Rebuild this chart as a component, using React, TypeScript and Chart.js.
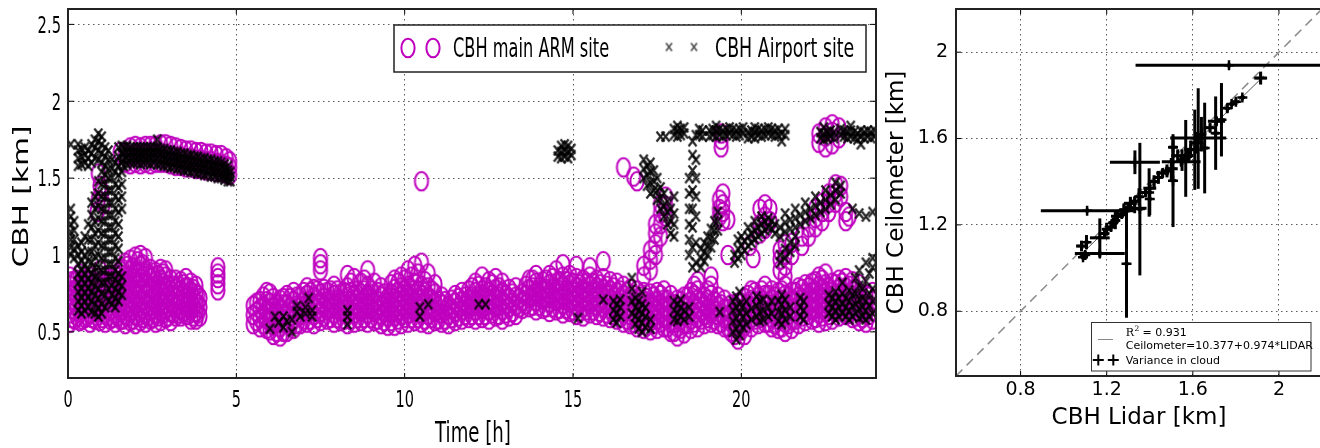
import React, { useEffect, useRef } from "react";
import { Chart, registerables } from "chart.js";

Chart.register(...registerables);

// ---------------- Left panel: cloud base height time series ----------------
const timeTicks = [0, 5, 10, 15, 20];
const timeTickLabels = ["0", "5", "10", "15", "20"];
const cbhTicks = [0.5, 1, 1.5, 2, 2.5];
const cbhTickLabels = ["0.5", "1", "1.5", "2", "2.5"];

// CBH main ARM site (magenta rings): time [h] columns with heights [km]
const armMorningTimes = [0.05, 0.2, 0.35, 0.5, 0.65, 0.8, 0.95, 1.1, 1.25, 1.4, 1.55, 1.7, 1.85, 2.0, 2.15, 2.3, 2.45, 2.6, 2.75, 2.9, 3.05, 3.2, 3.35, 3.5, 3.65, 3.8, 3.92, 4.45];
const armMorningHeights = [
  [0.56, 0.62, 0.68, 0.74, 0.8, 0.86], [0.58, 0.64, 0.7, 0.77, 0.83], [0.57, 0.63, 0.69, 0.75, 0.81, 0.88],
  [0.59, 0.65, 0.71, 0.78, 0.84], [0.56, 0.62, 0.68, 0.74, 0.8, 0.86], [0.58, 0.64, 0.7, 0.76, 0.82],
  [0.57, 0.63, 0.69, 0.75, 0.82, 0.9], [0.56, 0.62, 0.68, 0.74, 0.8, 0.86], [0.58, 0.64, 0.71, 0.77, 0.83],
  [0.56, 0.62, 0.68, 0.75, 0.81, 0.87], [0.58, 0.64, 0.7, 0.76, 0.83, 0.9], [0.55, 0.61, 0.67, 0.74, 0.8, 0.87, 0.95],
  [0.57, 0.63, 0.69, 0.76, 0.83, 0.9, 0.97], [0.55, 0.61, 0.68, 0.75, 0.82, 0.89, 0.99], [0.57, 0.63, 0.7, 0.77, 0.85, 0.93, 1.0],
  [0.56, 0.62, 0.68, 0.75, 0.82, 0.9, 0.98], [0.58, 0.64, 0.71, 0.78, 0.85, 0.91], [0.56, 0.62, 0.69, 0.76, 0.83, 0.89],
  [0.57, 0.63, 0.7, 0.77, 0.84, 0.91], [0.59, 0.65, 0.72, 0.79, 0.86, 0.9], [0.57, 0.63, 0.7, 0.77, 0.84],
  [0.6, 0.66, 0.72, 0.78, 0.84], [0.6, 0.65, 0.71, 0.77, 0.83], [0.61, 0.67, 0.73, 0.79, 0.85],
  [0.58, 0.64, 0.7, 0.76, 0.82], [0.58, 0.63, 0.69, 0.75, 0.8], [0.6, 0.66, 0.72], [0.77, 0.81, 0.85, 0.88, 0.92],
];
const armMorningFillTimes = [0.12, 0.27, 0.42, 0.57, 0.72, 0.87, 1.02, 1.17, 1.32, 1.47, 1.62, 1.77, 1.92, 2.07, 2.22, 2.37, 2.52, 2.67, 2.82, 2.97, 3.12, 3.27, 3.42, 3.57, 3.72, 3.85];
const armMorningFillHeights = [
  [0.59, 0.65, 0.71, 0.77, 0.83], [0.6, 0.66, 0.72, 0.78, 0.84], [0.58, 0.64, 0.7, 0.76, 0.82], [0.6, 0.66, 0.72, 0.78, 0.84],
  [0.59, 0.65, 0.71, 0.77, 0.83], [0.6, 0.66, 0.72, 0.78, 0.85], [0.59, 0.65, 0.71, 0.77, 0.83], [0.6, 0.66, 0.72, 0.78, 0.84],
  [0.59, 0.65, 0.71, 0.77, 0.84], [0.6, 0.66, 0.72, 0.79, 0.86], [0.58, 0.64, 0.7, 0.77, 0.84, 0.91], [0.6, 0.66, 0.72, 0.79, 0.86, 0.93],
  [0.58, 0.64, 0.71, 0.78, 0.85, 0.92], [0.6, 0.66, 0.73, 0.8, 0.88, 0.96], [0.59, 0.65, 0.71, 0.78, 0.86, 0.94], [0.6, 0.67, 0.74, 0.81, 0.88],
  [0.59, 0.65, 0.72, 0.79, 0.86], [0.6, 0.66, 0.73, 0.8, 0.87], [0.62, 0.68, 0.75, 0.82, 0.88], [0.6, 0.66, 0.73, 0.8],
  [0.62, 0.68, 0.74, 0.8], [0.62, 0.68, 0.74, 0.8], [0.63, 0.69, 0.75, 0.81], [0.61, 0.67, 0.73, 0.79], [0.6, 0.66, 0.72, 0.78],
  [0.62, 0.68, 0.74],
];
const armUpperTimes = [0.86, 0.9, 0.95, 1.0, 1.05, 1.55, 1.7, 1.85, 2.0, 2.15, 2.3, 2.45, 2.6, 2.75, 2.9, 3.05, 3.2, 3.35, 3.5, 3.65, 3.8, 3.95, 4.1, 4.25, 4.4, 4.55, 4.7, 4.8];
const armUpperHeights = [
  [1.28], [1.36, 1.53], [1.45], [1.41], [1.33], [1.67], [1.6, 1.66], [1.59, 1.65, 1.7], [1.6, 1.66, 1.71],
  [1.59, 1.65, 1.7], [1.6, 1.66, 1.71], [1.59, 1.65, 1.71], [1.6, 1.66, 1.71], [1.6, 1.66, 1.72], [1.6, 1.66, 1.72],
  [1.59, 1.65, 1.71], [1.58, 1.64, 1.7], [1.58, 1.64, 1.69], [1.57, 1.63, 1.68], [1.57, 1.63, 1.68], [1.56, 1.62, 1.67],
  [1.56, 1.62, 1.67], [1.55, 1.61, 1.66], [1.55, 1.61, 1.66], [1.54, 1.6, 1.65], [1.54, 1.59, 1.65], [1.53, 1.58, 1.63],
  [1.52, 1.57, 1.61],
];
const armDayTimes = [5.5, 5.7, 5.9, 6.1, 6.3, 6.5, 6.7, 6.9, 7.1, 7.3, 7.5, 7.7, 7.9, 8.1, 8.3, 8.5, 8.7, 8.9, 9.1, 9.3, 9.5, 9.7, 9.9, 10.1, 10.3, 10.5, 10.7, 10.9, 11.1, 11.3, 11.5, 11.7, 11.9, 12.1, 12.3, 12.5, 12.7, 12.9, 13.1, 13.3, 13.5, 13.7, 13.9, 14.1, 14.3, 14.5, 14.7, 14.9, 15.1, 15.3, 15.5, 15.7, 15.9, 16.1, 16.3, 16.5, 16.7, 16.9, 17.1, 17.3, 17.5, 17.7, 17.9, 18.1, 18.3, 18.5, 18.7, 18.9, 19.1, 19.3, 19.5, 19.7, 19.9, 20.1, 20.3, 20.5, 20.7, 20.9, 21.1, 21.3, 21.5, 21.7, 21.9, 22.1, 22.3, 22.5, 22.7, 22.9, 23.1, 23.3, 23.5, 23.7, 23.9];
const armDayHeights = [
  [0.55, 0.61, 0.67], [0.53, 0.59, 0.65, 0.7], [0.52, 0.58, 0.64, 0.7, 0.76], [0.48, 0.54, 0.6, 0.66, 0.72],
  [0.47, 0.53, 0.59, 0.65, 0.71], [0.5, 0.56, 0.62, 0.68, 0.74], [0.52, 0.58, 0.64, 0.7, 0.76], [0.55, 0.61, 0.67, 0.73],
  [0.56, 0.62, 0.68, 0.74, 0.79], [0.55, 0.61, 0.67, 0.73, 0.78], [0.57, 0.63, 0.69, 0.75, 0.9, 0.94, 0.98], [0.58, 0.64, 0.7, 0.76],
  [0.56, 0.62, 0.68, 0.74, 0.8], [0.57, 0.63, 0.69, 0.75], [0.55, 0.61, 0.67, 0.73, 0.79, 0.87], [0.56, 0.62, 0.68, 0.74, 0.85],
  [0.57, 0.63, 0.69, 0.75, 0.82], [0.56, 0.62, 0.68, 0.74, 0.8, 0.9], [0.57, 0.63, 0.69, 0.75, 0.82], [0.55, 0.61, 0.67, 0.73, 0.79],
  [0.54, 0.6, 0.66, 0.72], [0.54, 0.6, 0.66, 0.72, 0.78, 0.84], [0.55, 0.61, 0.67, 0.73, 0.79, 0.86], [0.56, 0.62, 0.68, 0.74, 0.8, 0.9],
  [0.57, 0.63, 0.69, 0.75, 0.82, 0.93], [0.56, 0.62, 0.68, 0.74, 0.8, 0.95, 1.48], [0.55, 0.61, 0.67, 0.73, 0.79, 0.88], [0.57, 0.63, 0.69, 0.75, 0.81],
  [0.56, 0.62, 0.68, 0.73], [0.55, 0.61, 0.67], [0.57, 0.63, 0.69, 0.74], [0.58, 0.64, 0.7, 0.76],
  [0.59, 0.65, 0.71, 0.77], [0.58, 0.64, 0.7, 0.76, 0.82], [0.59, 0.65, 0.71, 0.77, 0.86], [0.58, 0.64, 0.7, 0.76, 0.83],
  [0.6, 0.66, 0.72, 0.78, 0.85], [0.58, 0.64, 0.7, 0.76, 0.82], [0.6, 0.66, 0.72, 0.78], [0.61, 0.67, 0.73, 0.79],
  [0.65, 0.7, 0.75], [0.66, 0.72, 0.78, 0.84], [0.64, 0.7, 0.76, 0.82, 0.87], [0.65, 0.71, 0.77, 0.83],
  [0.63, 0.69, 0.75, 0.81, 0.87], [0.64, 0.7, 0.76, 0.82, 0.9], [0.62, 0.68, 0.74, 0.8, 0.86, 0.94], [0.63, 0.69, 0.75, 0.81, 0.87],
  [0.61, 0.67, 0.73, 0.79, 0.85, 0.93], [0.6, 0.66, 0.72, 0.78, 0.84], [0.62, 0.68, 0.74, 0.8, 0.86, 0.92], [0.61, 0.67, 0.73, 0.79, 0.84],
  [0.6, 0.66, 0.72, 0.78, 0.85, 0.96], [0.59, 0.65, 0.71, 0.77, 0.83], [0.58, 0.64, 0.7, 0.76, 0.82], [0.56, 0.62, 0.68, 0.74, 0.8],
  [0.55, 0.61, 0.67, 0.73, 0.78], [0.53, 0.59, 0.65, 0.71, 0.77], [0.52, 0.58, 0.64, 0.7, 0.76, 0.86, 0.93], [0.51, 0.57, 0.63, 0.69, 0.75],
  [0.52, 0.58, 0.64, 0.7, 0.76], [0.53, 0.59, 0.65, 0.71, 0.77], [0.5, 0.56, 0.62, 0.68, 0.74], [0.47, 0.53, 0.59, 0.65, 0.71],
  [0.49, 0.55, 0.61, 0.67, 0.73], [0.52, 0.58, 0.64, 0.7, 0.76], [0.53, 0.59, 0.65, 0.71, 0.77, 0.83], [0.55, 0.61, 0.67, 0.73],
  [0.56, 0.62, 0.68, 0.74, 0.8, 0.86], [0.55, 0.61, 0.67, 0.73], [0.53, 0.59, 0.65, 0.71], [0.5, 0.56, 0.62, 0.68],
  [0.45, 0.51, 0.57, 0.63, 0.69], [0.48, 0.54, 0.6, 0.66, 0.72], [0.53, 0.59, 0.65, 0.71, 0.77], [0.55, 0.61, 0.67, 0.73],
  [0.56, 0.62, 0.68, 0.74, 0.8], [0.53, 0.59, 0.65, 0.71, 0.77], [0.52, 0.58, 0.64, 0.7, 0.76], [0.5, 0.56, 0.62, 0.68, 0.74, 0.8],
  [0.52, 0.58, 0.64, 0.7, 0.76], [0.55, 0.61, 0.67, 0.73, 0.79], [0.57, 0.63, 0.69, 0.75, 0.81], [0.58, 0.64, 0.7, 0.76, 0.82],
  [0.56, 0.62, 0.68, 0.74, 0.8, 0.86], [0.57, 0.63, 0.69, 0.75, 0.81, 0.88], [0.58, 0.64, 0.7, 0.76, 0.82], [0.6, 0.66, 0.72, 0.78, 0.84],
  [0.61, 0.67, 0.73, 0.79, 0.85], [0.59, 0.65, 0.71, 0.77, 0.83], [0.57, 0.63, 0.69, 0.75, 0.81], [0.56, 0.62, 0.68, 0.74],
  [0.58, 0.64, 0.7, 0.76],
];
const armDayFillTimes = [5.6, 5.8, 6.0, 6.2, 6.4, 6.6, 6.8, 7.0, 7.2, 7.4, 7.6, 7.8, 8.0, 8.2, 8.4, 8.6, 8.8, 9.0, 9.2, 9.4, 9.6, 9.8, 10.0, 10.2, 10.4, 10.6, 10.8, 11.0, 11.2, 11.4, 11.6, 11.8, 12.0, 12.2, 12.4, 12.6, 12.8, 13.0, 13.2, 13.4, 13.6, 13.8, 14.0, 14.2, 14.4, 14.6, 14.8, 15.0, 15.2, 15.4, 15.6, 15.8, 16.0, 16.2, 16.4, 16.6, 16.8, 17.0, 17.2, 17.4, 17.6, 17.8, 18.0, 18.2, 18.4, 18.6, 18.8, 19.0, 19.2, 19.4, 19.6, 19.8, 20.0, 20.2, 20.4, 20.6, 20.8, 21.0, 21.2, 21.4, 21.6, 21.8, 22.0, 22.2, 22.4, 22.6, 22.8, 23.0, 23.2, 23.4, 23.6, 23.8];
const armDayFillHeights = [
  [0.57, 0.63, 0.69], [0.55, 0.61, 0.67, 0.73], [0.51, 0.57, 0.63, 0.69, 0.75], [0.5, 0.56, 0.62, 0.68], [0.5, 0.56, 0.62, 0.68, 0.72],
  [0.54, 0.6, 0.66, 0.72], [0.55, 0.61, 0.67, 0.73], [0.58, 0.64, 0.7, 0.76], [0.58, 0.64, 0.7, 0.76], [0.59, 0.65, 0.71, 0.77],
  [0.6, 0.66, 0.72, 0.78], [0.59, 0.65, 0.71, 0.77], [0.59, 0.65, 0.71, 0.77], [0.58, 0.64, 0.7, 0.76], [0.58, 0.64, 0.7, 0.76, 0.82],
  [0.59, 0.65, 0.71, 0.77], [0.59, 0.65, 0.71, 0.77, 0.84], [0.59, 0.65, 0.71, 0.77], [0.58, 0.64, 0.7, 0.76], [0.57, 0.63, 0.69, 0.75],
  [0.57, 0.63, 0.69, 0.75, 0.81], [0.58, 0.64, 0.7, 0.76, 0.82],
  [0.59, 0.65, 0.71, 0.77, 0.84], [0.59, 0.65, 0.71, 0.77, 0.86], [0.59, 0.65, 0.71, 0.77, 0.88], [0.58, 0.64, 0.7, 0.76, 0.83],
  [0.59, 0.65, 0.71, 0.77], [0.58, 0.64, 0.7], [0.58, 0.64, 0.7], [0.59, 0.65, 0.71], [0.6, 0.66, 0.72], [0.61, 0.67, 0.73],
  [0.61, 0.67, 0.73, 0.79], [0.61, 0.67, 0.73, 0.8], [0.61, 0.67, 0.73, 0.79], [0.62, 0.68, 0.74, 0.81], [0.61, 0.67, 0.73, 0.79],
  [0.62, 0.68, 0.74], [0.63, 0.69, 0.75], [0.66, 0.72], [0.68, 0.74, 0.8], [0.67, 0.73, 0.79, 0.84],
  [0.67, 0.73, 0.79], [0.66, 0.72, 0.78, 0.84], [0.66, 0.72, 0.78, 0.85], [0.65, 0.71, 0.77, 0.83], [0.65, 0.71, 0.77, 0.83],
  [0.64, 0.7, 0.76, 0.82], [0.63, 0.69, 0.75, 0.81], [0.64, 0.7, 0.76, 0.82], [0.64, 0.7, 0.76, 0.82], [0.63, 0.69, 0.75, 0.81],
  [0.62, 0.68, 0.74, 0.8], [0.61, 0.67, 0.73, 0.79], [0.59, 0.65, 0.71, 0.77], [0.58, 0.64, 0.7, 0.76], [0.56, 0.62, 0.68, 0.74],
  [0.55, 0.61, 0.67, 0.73], [0.54, 0.6, 0.66, 0.72], [0.55, 0.61, 0.67, 0.73], [0.56, 0.62, 0.68, 0.74], [0.53, 0.59, 0.65, 0.71],
  [0.5, 0.56, 0.62, 0.68], [0.52, 0.58, 0.64, 0.7], [0.55, 0.61, 0.67, 0.73], [0.56, 0.62, 0.68, 0.74, 0.8], [0.58, 0.64, 0.7],
  [0.59, 0.65, 0.71, 0.77], [0.58, 0.64, 0.7], [0.56, 0.62, 0.68], [0.53, 0.59, 0.65], [0.48, 0.54, 0.6, 0.66],
  [0.51, 0.57, 0.63, 0.69], [0.56, 0.62, 0.68, 0.74], [0.58, 0.64, 0.7, 0.76], [0.59, 0.65, 0.71, 0.77], [0.56, 0.62, 0.68, 0.74],
  [0.55, 0.61, 0.67, 0.73], [0.53, 0.59, 0.65, 0.71, 0.77], [0.55, 0.61, 0.67, 0.73], [0.58, 0.64, 0.7, 0.76], [0.6, 0.66, 0.72, 0.78],
  [0.61, 0.67, 0.73, 0.79], [0.59, 0.65, 0.71, 0.77, 0.83], [0.6, 0.66, 0.72, 0.78, 0.84], [0.61, 0.67, 0.73, 0.79], [0.63, 0.69, 0.75, 0.81],
  [0.64, 0.7, 0.76, 0.82], [0.62, 0.68, 0.74, 0.8], [0.6, 0.66, 0.72, 0.78], [0.59, 0.65, 0.71], [0.61, 0.67, 0.73],
];
const armBranchTimes = [16.5, 16.8, 16.9, 17.3, 17.45, 17.6, 17.75, 19.35, 19.45, 19.6, 19.4, 20.25, 20.35, 20.55, 20.7, 20.85, 21.15, 21.3, 21.5, 21.8, 22.0, 22.2, 22.4, 22.6, 22.8, 22.95, 23.1, 23.2, 22.3, 22.5, 22.7, 22.9];
const armBranchHeights = [
  [1.57], [1.51], [1.48], [0.9, 0.97, 1.03], [1.0, 1.07, 1.14, 1.2], [1.12, 1.2, 1.27, 1.33], [1.25, 1.32, 1.38],
  [1.25, 1.3, 1.36], [1.22, 1.28, 1.33, 1.4], [1.0, 1.23], [1.7, 1.75, 1.79], [1.06], [0.98], [1.14, 1.2, 1.3],
  [1.17, 1.25, 1.33], [1.22, 1.3], [0.9, 0.97, 1.03], [0.86, 0.93, 1.0, 1.07], [1.0, 1.08], [1.06, 1.12], [1.12, 1.18],
  [1.18, 1.24, 1.3], [1.22, 1.28, 1.34], [1.28, 1.34, 1.4], [1.34, 1.4, 1.46], [1.38, 1.45], [1.22, 1.28], [1.25],
  [1.73, 1.79], [1.7, 1.77, 1.83], [1.72, 1.8, 1.85], [1.76, 1.83],
];

// CBH Airport site (black x): time [h] columns with heights [km]
const airportMorningTimes = [0.08, 0.18, 0.3, 0.4, 0.5, 0.6, 0.7, 0.8, 0.9, 1.0, 1.1, 1.2, 1.3, 1.4, 1.5, 1.6];
const airportMorningHeights = [
  [1.0, 1.05, 1.1, 1.15, 1.2, 1.25, 1.3, 1.72],
  [0.98, 1.04, 1.1, 1.16, 1.22],
  [0.64, 0.7, 0.76, 0.82, 0.88, 0.94, 1.0, 1.06, 1.58, 1.63, 1.68, 1.72],
  [0.62, 0.67, 0.72, 0.78, 0.84, 0.9, 0.96, 1.02, 1.08, 1.59, 1.64, 1.69],
  [0.64, 0.7, 0.76, 0.82, 0.88, 0.94, 1.0, 1.12, 1.6, 1.65, 1.7],
  [0.66, 0.72, 0.78, 0.84, 0.9, 0.96, 1.02, 1.1, 1.2, 1.58, 1.63, 1.68],
  [0.63, 0.7, 0.76, 0.82, 0.88, 0.95, 1.02, 1.1, 1.18, 1.26, 1.34, 1.6, 1.66, 1.72],
  [0.62, 0.68, 0.74, 0.8, 0.86, 0.92, 0.99, 1.06, 1.14, 1.22, 1.3, 1.38, 1.63, 1.7, 1.75],
  [0.6, 0.66, 0.72, 0.78, 0.85, 0.92, 1.0, 1.08, 1.16, 1.24, 1.32, 1.4, 1.48, 1.62, 1.68, 1.74, 1.79],
  [0.62, 0.68, 0.75, 0.82, 0.9, 0.98, 1.06, 1.14, 1.22, 1.3, 1.38, 1.46, 1.54, 1.6, 1.66, 1.72, 1.77],
  [0.66, 0.74, 0.82, 0.9, 0.98, 1.06, 1.14, 1.22, 1.3, 1.38, 1.46, 1.52, 1.58, 1.64, 1.7],
  [0.7, 0.78, 0.86, 0.94, 1.02, 1.1, 1.18, 1.26, 1.34, 1.42, 1.5, 1.56, 1.62, 1.68],
  [0.68, 0.74, 0.8, 0.86, 0.94, 1.02, 1.1, 1.18, 1.26, 1.34, 1.42, 1.5, 1.56, 1.62],
  [0.66, 0.72, 0.78, 0.84, 0.9, 0.98, 1.06, 1.14, 1.22, 1.3, 1.38, 1.46, 1.54, 1.6],
  [0.7, 0.76, 0.82, 0.88, 0.96, 1.04, 1.12, 1.2, 1.28, 1.36, 1.44, 1.52, 1.58, 1.64, 1.7],
  [0.74, 0.8, 0.86, 1.3, 1.38, 1.46, 1.54, 1.6, 1.66, 1.71],
];
const airportUpperTimes = [1.65, 1.75, 1.85, 1.95, 2.05, 2.15, 2.25, 2.35, 2.45, 2.55, 2.65, 2.75, 2.85, 2.95, 3.05, 3.15, 3.25, 3.35, 3.45, 3.55, 3.65, 3.75, 3.85, 3.95, 4.05, 4.15, 4.25, 4.35, 4.45, 4.55, 4.65, 4.75, 4.82];
const airportUpperHeights = [
  [1.58, 1.62, 1.66, 1.7], [1.59, 1.63, 1.67, 1.71], [1.6, 1.63, 1.67, 1.7], [1.6, 1.64, 1.67, 1.7], [1.6, 1.63, 1.67, 1.7],
  [1.59, 1.63, 1.66, 1.7], [1.6, 1.64, 1.67, 1.7], [1.6, 1.63, 1.67, 1.7], [1.59, 1.63, 1.66, 1.7], [1.6, 1.64, 1.67, 1.7],
  [1.59, 1.63, 1.67, 1.7, 1.75], [1.59, 1.62, 1.66, 1.69], [1.58, 1.62, 1.65, 1.69], [1.58, 1.61, 1.65, 1.68], [1.57, 1.61, 1.64, 1.68],
  [1.57, 1.6, 1.64, 1.67], [1.56, 1.6, 1.63, 1.67], [1.56, 1.59, 1.63, 1.66], [1.55, 1.59, 1.62, 1.66], [1.55, 1.58, 1.62, 1.65],
  [1.54, 1.58, 1.61, 1.65], [1.54, 1.57, 1.61, 1.64], [1.53, 1.57, 1.6, 1.64], [1.53, 1.56, 1.6, 1.63], [1.52, 1.56, 1.59, 1.63],
  [1.52, 1.55, 1.59, 1.62], [1.51, 1.55, 1.58, 1.62], [1.51, 1.54, 1.58, 1.61], [1.5, 1.54, 1.57, 1.61], [1.5, 1.53, 1.57, 1.6],
  [1.49, 1.52, 1.56, 1.59], [1.48, 1.51, 1.55, 1.58], [1.48, 1.51, 1.54],
];
const airportSparseTimes = [6.0, 6.15, 6.25, 6.4, 6.5, 6.65, 6.8, 6.9, 7.05, 7.15, 7.25, 8.3, 10.45, 10.7, 12.2, 12.4, 14.55, 14.65, 14.75, 14.85, 14.95, 15.15, 15.9];
const airportSparseHeights = [
  [0.52], [0.6], [0.56], [0.53, 0.6], [0.57], [0.5, 0.58], [0.63, 0.67], [0.6], [0.62, 0.66], [0.72], [0.6, 0.64],
  [0.55, 0.6, 0.64], [0.6, 0.66], [0.68], [0.68], [0.68], [1.64, 1.68], [1.63, 1.67, 1.71], [1.64, 1.68, 1.72],
  [1.63, 1.67, 1.71], [1.65, 1.69], [0.59], [0.71],
];
const airportLowTimes = [16.2, 16.3, 16.4, 16.75, 16.85, 16.95, 17.05, 17.15, 17.3, 18.0, 18.1, 18.2, 18.3, 18.45, 19.36, 19.75, 19.85, 19.95, 20.05, 20.15, 20.3, 20.45, 20.55, 20.65, 20.8, 20.9, 21.1, 21.2, 21.3, 21.45, 21.75, 21.85, 22.6, 22.7, 22.8, 22.9, 23.0, 23.1, 23.2, 23.3, 23.4, 23.5, 23.6, 23.7, 23.8, 23.9];
const airportLowHeights = [
  [0.58, 0.64, 0.7], [0.56, 0.62, 0.68], [0.6, 0.66, 0.71], [0.62, 0.7, 0.78, 0.85], [0.55, 0.6, 0.66, 0.72],
  [0.52, 0.58, 0.64, 0.7], [0.5, 0.56, 0.62, 0.68, 0.76], [0.53, 0.6, 0.66], [0.52, 0.58], [0.58, 0.64, 0.7],
  [0.57, 0.62, 0.68], [0.6, 0.66, 0.71], [0.58, 0.64], [0.6, 0.66], [0.63], [0.5, 0.57, 0.64, 0.7],
  [0.45, 0.52, 0.59, 0.66, 0.73], [0.48, 0.55, 0.62, 0.68, 0.76], [0.53, 0.6, 0.67], [0.55, 0.62, 0.7], [0.58, 0.65],
  [0.6, 0.67, 0.73], [0.57, 0.63, 0.7], [0.58, 0.64, 0.71], [0.6, 0.66], [0.62, 0.7], [0.57, 0.63, 0.7],
  [0.55, 0.62, 0.68, 0.74], [0.58, 0.64, 0.71], [0.6, 0.66], [0.6, 0.66, 0.72], [0.58, 0.64, 0.7], [0.62, 0.68, 0.74],
  [0.6, 0.66, 0.72], [0.58, 0.64, 0.7, 0.76], [0.6, 0.66, 0.72], [0.62, 0.68, 0.75, 0.82], [0.6, 0.66, 0.72],
  [0.58, 0.64, 0.7, 0.77], [0.6, 0.67, 0.74], [0.62, 0.68, 0.75, 0.85], [0.59, 0.65, 0.71, 0.8, 0.9],
  [0.6, 0.66, 0.72, 0.78], [0.58, 0.64, 0.7, 0.83, 0.95], [0.6, 0.67, 0.75, 0.88], [0.62, 0.7, 0.78, 0.92, 0.98],
];
const airportHighTimes = [17.6, 17.75, 18.0, 18.1, 18.2, 18.3, 18.75, 18.85, 19.05, 19.15, 19.25, 19.35, 19.45, 19.55, 19.65, 19.75, 19.85, 19.95, 20.05, 20.2, 20.3, 20.4, 20.5, 20.6, 20.7, 20.8, 20.9, 21.0, 21.1, 21.2, 21.3, 22.35, 22.45, 22.55, 22.65, 22.75, 22.95, 23.05, 23.15, 23.25, 23.35, 23.45, 23.55, 23.65, 23.75, 23.85, 23.95];
const airportHighHeights = [
  [1.77], [1.77], [1.78, 1.82], [1.77, 1.81, 1.84], [1.78, 1.82], [1.79, 1.83], [1.78, 1.82], [1.77, 1.81],
  [1.77, 1.81], [1.78, 1.82], [1.77, 1.81, 1.84], [1.78, 1.82], [1.77, 1.81], [1.78, 1.82], [1.79, 1.83],
  [1.78, 1.82], [1.77, 1.81], [1.78, 1.82], [1.79, 1.83], [1.76, 1.8], [1.77, 1.81], [1.76, 1.8, 1.83],
  [1.78, 1.82], [1.77, 1.81], [1.78, 1.82], [1.79, 1.83], [1.78, 1.82], [1.77, 1.81], [1.78, 1.82], [1.74, 1.79],
  [1.78, 1.82], [1.76, 1.8], [1.75, 1.79, 1.83], [1.76, 1.8], [1.77, 1.81], [1.76, 1.8], [1.78, 1.82], [1.77, 1.81],
  [1.76, 1.8], [1.77, 1.81, 1.84], [1.76, 1.8], [1.75, 1.79], [1.72, 1.77, 1.81], [1.76, 1.8], [1.77, 1.81],
  [1.76, 1.8], [1.77, 1.81],
];
const airportSlantTimes = [17.1, 17.2, 17.3, 17.4, 17.5, 17.6, 17.7, 17.8, 17.9, 18.0, 18.45, 18.55, 18.65, 18.8, 18.9, 19.0, 19.1, 19.2, 19.3, 19.8, 19.9, 20.0, 20.1, 20.2, 20.3, 20.4, 20.5, 20.6, 20.7, 20.8, 20.9, 21.0, 21.15, 21.3, 21.45, 21.6, 21.75, 21.9, 22.05, 22.2, 22.35, 22.5, 22.65, 22.8, 22.95, 23.3, 23.5, 23.7, 23.9];
const airportSlantHeights = [
  [1.5, 1.56, 1.62], [1.45, 1.52, 1.58], [1.4, 1.47, 1.54, 1.6], [1.42, 1.48, 1.55], [1.36, 1.42, 1.5],
  [1.3, 1.37, 1.44], [1.25, 1.32, 1.4], [1.2, 1.28, 1.35], [1.14, 1.22, 1.3], [1.12, 1.2, 1.27, 1.38],
  [1.0, 1.1, 1.2, 1.3, 1.4, 1.5], [0.92, 1.05, 1.18, 1.3, 1.42, 1.55, 1.65, 1.74], [0.95, 1.08, 1.25, 1.38, 1.5, 1.62, 1.78],
  [0.92, 0.98, 1.04], [0.96, 1.02, 1.08], [1.0, 1.06, 1.12], [1.05, 1.11, 1.17], [1.1, 1.16, 1.22], [1.16, 1.22, 1.28],
  [0.95, 1.0], [0.98, 1.04, 1.1], [1.0, 1.06, 1.12], [1.03, 1.09], [1.06, 1.12, 1.18], [1.08, 1.14], [1.1, 1.16, 1.22],
  [1.12, 1.18], [1.14, 1.2, 1.25], [1.16, 1.22], [1.18, 1.24], [1.17, 1.22], [1.14, 1.2], [0.95, 1.0, 1.12, 1.18],
  [0.98, 1.04, 1.15, 1.21, 1.27], [1.02, 1.08, 1.17, 1.23], [1.06, 1.12, 1.18, 1.24, 1.3], [1.2, 1.26], [1.22, 1.28, 1.34],
  [1.24, 1.3], [1.26, 1.32, 1.38], [1.28, 1.34], [1.3, 1.36, 1.42], [1.33, 1.39], [1.36, 1.42, 1.47], [1.4, 1.45],
  [1.3], [1.27], [1.25], [1.28],
];

// ---------------- Right panel: Lidar vs Ceilometer ----------------
const lidarTicks = [0.8, 1.2, 1.6, 2.0];
const lidarTickLabels = ["0.8", "1.2", "1.6", "2"];
const ceilTicks = [0.8, 1.2, 1.6, 2.0];
const ceilTickLabels = ["0.8", "1.2", "1.6", "2"];

const lidarCbh = [1.768, 1.915, 1.83, 1.8, 1.78, 1.76, 1.733, 1.706, 1.625, 1.71, 1.68, 1.625, 1.655, 1.609, 1.567, 1.62, 1.64, 1.59, 1.58, 1.55, 1.53, 1.508, 1.508, 1.546, 1.331, 1.5, 1.48, 1.46, 1.44, 1.42, 1.4, 1.38, 1.397, 1.354, 1.33, 1.35, 1.33, 1.31, 1.3, 1.28, 1.27, 1.25, 1.24, 1.23, 1.22, 1.109, 1.168, 1.083, 1.168, 1.09, 1.1, 1.292, 1.4, 1.106, 1.2, 1.19];
const ceilCbh = [1.939, 1.88, 1.79, 1.77, 1.76, 1.74, 1.687, 1.625, 1.603, 1.68, 1.65, 1.6, 1.556, 1.548, 1.508, 1.58, 1.62, 1.55, 1.52, 1.5, 1.52, 1.405, 1.56, 1.493, 1.49, 1.46, 1.45, 1.44, 1.42, 1.4, 1.37, 1.35, 1.35, 1.273, 1.277, 1.33, 1.31, 1.3, 1.28, 1.27, 1.25, 1.24, 1.22, 1.21, 1.19, 1.266, 1.14, 1.102, 1.068, 1.05, 1.06, 1.02, 1.32, 1.12, 1.18, 1.16];
const lidarErr = [0.434, 0.03, 0.012, 0.015, 0.01, 0.012, 0.015, 0.015, 0.13, 0.04, 0.02, 0.015, 0.015, 0.015, 0.015, 0.03, 0.02, 0.03, 0.02, 0.02, 0.03, 0.015, 0.02, 0.09, 0.116, 0.03, 0.02, 0.03, 0.02, 0.02, 0.03, 0.02, 0.012, 0.012, 0.055, 0.02, 0.02, 0.03, 0.02, 0.02, 0.02, 0.03, 0.02, 0.02, 0.02, 0.215, 0.046, 0.025, 0.116, 0.01, 0.01, 0.01, 0.01, 0.01, 0.02, 0.02];
const ceilErr = [0.01, 0.03, 0.012, 0.015, 0.01, 0.02, 0.17, 0.17, 0.015, 0.02, 0.02, 0.233, 0.21, 0.186, 0.178, 0.05, 0.08, 0.04, 0.03, 0.05, 0.03, 0.215, 0.05, 0.02, 0.055, 0.05, 0.03, 0.02, 0.03, 0.03, 0.02, 0.02, 0.112, 0.307, 0.02, 0.04, 0.02, 0.03, 0.02, 0.03, 0.02, 0.03, 0.04, 0.02, 0.02, 0.01, 0.09, 0.025, 0.01, 0.01, 0.02, 0.25, 0.075, 0.033, 0.03, 0.02];
const oneToOneX = [0.5, 2.2];
const oneToOneY = [0.5, 2.2];
const fitLineX = [1.07, 1.93];
const fitLineY = [1.052, 1.89];

// ---------------- helpers ----------------
type Pt = { x: number; y: number };
function columnsToPoints(times: number[], heights: number[][]): Pt[] {
  const out: Pt[] = [];
  times.forEach((t, i) => (heights[i] || []).forEach((h) => out.push({ x: t, y: h })));
  return out;
}
const SANS = '"DejaVu Sans", "Noto Sans", sans-serif';
const SERIF = '"DejaVu Serif", "Liberation Serif", serif';
const MAGENTA = "#bf00bf";

function makeRing(): HTMLCanvasElement {
  const c = document.createElement("canvas");
  c.width = 18;
  c.height = 24;
  const g = c.getContext("2d")!;
  g.strokeStyle = MAGENTA;
  g.lineWidth = 2;
  g.beginPath();
  g.ellipse(9, 12, 6.6, 9.3, 0, 0, Math.PI * 2);
  g.stroke();
  return c;
}
function makeX(w: number, h: number, lw: number, color: string): HTMLCanvasElement {
  const c = document.createElement("canvas");
  c.width = w;
  c.height = h;
  const g = c.getContext("2d")!;
  g.strokeStyle = color;
  g.lineWidth = lw;
  g.beginPath();
  g.moveTo(1.5, 1.5);
  g.lineTo(w - 1.5, h - 1.5);
  g.moveTo(w - 1.5, 1.5);
  g.lineTo(1.5, h - 1.5);
  g.stroke();
  return c;
}
function squish(ctx: CanvasRenderingContext2D, text: string, x: number, y: number, size: number, sx: number, align: CanvasTextAlign) {
  ctx.save();
  ctx.translate(x, y);
  ctx.scale(sx, 1);
  ctx.font = `${size}px ${SANS}`;
  ctx.textAlign = align;
  ctx.textBaseline = "alphabetic";
  ctx.fillStyle = "#000";
  ctx.fillText(text, 0, 0);
  ctx.restore();
}
function seg(ctx: CanvasRenderingContext2D, x1: number, y1: number, x2: number, y2: number) {
  ctx.beginPath();
  ctx.moveTo(x1, y1);
  ctx.lineTo(x2, y2);
  ctx.stroke();
}
function noPad(s: any) {
  s.paddingTop = 0;
  s.paddingBottom = 0;
  s.paddingLeft = 0;
  s.paddingRight = 0;
}

export default function App() {
  const leftRef = useRef<HTMLCanvasElement>(null);
  const rightRef = useRef<HTMLCanvasElement>(null);

  useEffect(() => {
    const ring = makeRing();
    const xMark = makeX(11, 13, 2.2, "rgba(0,0,0,0.85)");
    const xLegend = makeX(9, 11, 1.6, "rgba(0,0,0,0.7)");

    const armPoints = [
      ...columnsToPoints(armMorningTimes, armMorningHeights),
      ...columnsToPoints(armMorningFillTimes, armMorningFillHeights),
      ...columnsToPoints(armUpperTimes, armUpperHeights),
      ...columnsToPoints(armDayTimes, armDayHeights),
      ...columnsToPoints(armDayFillTimes, armDayFillHeights),
      ...columnsToPoints(armBranchTimes, armBranchHeights),
    ];
    const airportPoints = [
      ...columnsToPoints(airportMorningTimes, airportMorningHeights),
      ...columnsToPoints(airportUpperTimes, airportUpperHeights),
      ...columnsToPoints(airportSparseTimes, airportSparseHeights),
      ...columnsToPoints(airportLowTimes, airportLowHeights),
      ...columnsToPoints(airportHighTimes, airportHighHeights),
      ...columnsToPoints(airportSlantTimes, airportSlantHeights),
    ];

    const gridCommon = { color: "rgba(0,0,0,0.65)", lineWidth: 1, drawTicks: false };
    const borderCommon = { display: false, dash: [1.5, 3.5] };

    const leftDecor = {
      id: "leftDecor",
      afterDraw(chart: any) {
        const { ctx, chartArea: a, scales } = chart;
        const xs = scales.x;
        const ys = scales.y;
        ctx.save();
        ctx.strokeStyle = "#000";
        ctx.lineWidth = 1;
        timeTicks.forEach((v) => {
          const px = xs.getPixelForValue(v);
          seg(ctx, px, a.bottom, px, a.bottom - 5);
          seg(ctx, px, a.top, px, a.top + 5);
        });
        cbhTicks.forEach((v) => {
          const py = ys.getPixelForValue(v);
          seg(ctx, a.left, py, a.left + 6, py);
          seg(ctx, a.right, py, a.right - 6, py);
        });
        ctx.strokeStyle = "#222";
        ctx.lineWidth = 2;
        ctx.strokeRect(a.left, a.top, a.right - a.left, a.bottom - a.top);

        timeTicks.forEach((v, i) => squish(ctx, timeTickLabels[i], xs.getPixelForValue(v), a.bottom + 28.7, 23, 0.63, "center"));
        cbhTicks.forEach((v, i) => squish(ctx, cbhTickLabels[i], a.left - 7, ys.getPixelForValue(v) + 8.3, 23, 0.64, "right"));
        squish(ctx, "Time [h]", (a.left + a.right) / 2 + 1, a.bottom + 63.7, 27.5, 0.66, "center");

        ctx.save();
        ctx.translate(28, (a.top + a.bottom) / 2 + 3);
        ctx.scale(0.74, 1);
        ctx.rotate(-Math.PI / 2);
        ctx.font = `29.7px ${SANS}`;
        ctx.textAlign = "center";
        ctx.textBaseline = "alphabetic";
        ctx.fillStyle = "#000";
        ctx.fillText("CBH [km]", 0, 0);
        ctx.restore();

        // legend
        ctx.fillStyle = "#fff";
        ctx.fillRect(394, 25, 472, 47);
        ctx.strokeStyle = "#222";
        ctx.lineWidth = 1.5;
        ctx.strokeRect(394, 25, 472, 47);
        ctx.drawImage(ring, 408 - 9, 48 - 12);
        ctx.drawImage(ring, 433 - 9, 48 - 12);
        squish(ctx, "CBH main ARM site", 453, 57, 27, 0.6, "left");
        ctx.drawImage(xLegend, 669 - 4.5, 47 - 5.5);
        ctx.drawImage(xLegend, 694 - 4.5, 47 - 5.5);
        squish(ctx, "CBH Airport site", 715, 57, 27, 0.645, "left");
        ctx.restore();
      },
    };

    const left = new Chart(leftRef.current!, {
      type: "scatter",
      data: {
        datasets: [
          { label: "CBH Airport site", data: airportPoints, pointStyle: xMark as any, pointRadius: 5, order: 0 },
          { label: "CBH main ARM site", data: armPoints, pointStyle: ring as any, pointRadius: 8, order: 1 },
        ],
      },
      options: {
        responsive: false,
        animation: false,
        events: [],
        layout: { padding: { top: 9, right: 8, left: 0, bottom: 0 } },
        plugins: { legend: { display: false }, tooltip: { enabled: false } },
        scales: {
          x: {
            type: "linear",
            min: 0,
            max: 24,
            afterBuildTicks: (s: any) => {
              s.ticks = timeTicks.map((v) => ({ value: v }));
            },
            afterFit: (s: any) => {
              s.height = 70;
              noPad(s);
            },
            ticks: { display: false },
            grid: gridCommon,
            border: borderCommon,
          },
          y: {
            type: "linear",
            min: 0.2,
            max: 2.6,
            afterBuildTicks: (s: any) => {
              s.ticks = cbhTicks.map((v) => ({ value: v }));
            },
            afterFit: (s: any) => {
              s.width = 68;
              noPad(s);
            },
            ticks: { display: false },
            grid: gridCommon,
            border: borderCommon,
          },
        },
      },
      plugins: [leftDecor],
    } as any);

    const rightDecor = {
      id: "rightDecor",
      afterDatasetsDraw(chart: any) {
        const { ctx, chartArea: a, scales } = chart;
        const xs = scales.x;
        const ys = scales.y;
        ctx.save();
        ctx.beginPath();
        ctx.rect(a.left, a.top, a.right - a.left, a.bottom - a.top);
        ctx.clip();
        ctx.strokeStyle = "#000";
        ctx.lineWidth = 3;
        lidarCbh.forEach((lx, i) => {
          const cy = ceilCbh[i];
          const px = xs.getPixelForValue(lx);
          const py = ys.getPixelForValue(cy);
          seg(ctx, xs.getPixelForValue(lx - lidarErr[i]), py, xs.getPixelForValue(lx + lidarErr[i]), py);
          seg(ctx, px, ys.getPixelForValue(cy - ceilErr[i]), px, ys.getPixelForValue(cy + ceilErr[i]));
        });
        ctx.restore();
      },
      afterDraw(chart: any) {
        const { ctx, chartArea: a, scales } = chart;
        const xs = scales.x;
        const ys = scales.y;
        ctx.save();
        ctx.strokeStyle = "#000";
        ctx.lineWidth = 1;
        lidarTicks.forEach((v) => {
          const px = xs.getPixelForValue(v);
          seg(ctx, px, a.bottom, px, a.bottom - 5);
          seg(ctx, px, a.top, px, a.top + 5);
        });
        ceilTicks.forEach((v) => {
          const py = ys.getPixelForValue(v);
          seg(ctx, a.left, py, a.left + 5, py);
        });
        ctx.strokeStyle = "#222";
        ctx.lineWidth = 2;
        ctx.strokeRect(a.left, a.top, a.right - a.left, a.bottom - a.top);

        // legend
        const bx = 211.5, by = 322.5, bw = 219.5, bh = 48.5;
        ctx.fillStyle = "#fff";
        ctx.fillRect(bx, by, bw, bh);
        ctx.strokeStyle = "#333";
        ctx.lineWidth = 1;
        ctx.strokeRect(bx, by, bw, bh);
        ctx.strokeStyle = "#888";
        seg(ctx, 218, 339.5, 233, 339.5);
        ctx.fillStyle = "#000";
        ctx.textAlign = "left";
        ctx.textBaseline = "alphabetic";
        ctx.font = `11px ${SERIF}`;
        ctx.fillText("R", 245.7, 335.7);
        const rw = ctx.measureText("R").width;
        ctx.font = `7.5px ${SERIF}`;
        ctx.fillText("2", 245.7 + rw + 0.5, 331);
        ctx.font = `11px ${SANS}`;
        ctx.fillText(" = 0.931", 245.7 + rw + 5, 335.7);
        ctx.fillText("Ceilometer=10.377+0.974*LIDAR", 245.7, 349.3);
        ctx.fillText("Variance in cloud", 245.7, 364);
        ctx.strokeStyle = "#000";
        ctx.lineWidth = 2;
        [218.3, 233.3].forEach((cx) => {
          seg(ctx, cx - 5.5, 360, cx + 5.5, 360);
          seg(ctx, cx, 354.5, cx, 365.5);
        });
        ctx.restore();
      },
    };

    const right = new Chart(rightRef.current!, {
      type: "scatter",
      data: {
        datasets: [
          {
            label: "Variance in cloud",
            data: lidarCbh.map((x, i) => ({ x, y: ceilCbh[i] })),
            pointStyle: "cross",
            pointRadius: 5,
            pointBorderWidth: 2.5,
            pointBorderColor: "#000",
            pointBackgroundColor: "#000",
            order: 0,
          },
          {
            label: "fit",
            data: fitLineX.map((x, i) => ({ x, y: fitLineY[i] })),
            showLine: true,
            borderColor: "#555",
            borderWidth: 1,
            pointRadius: 0,
            order: 1,
          },
          {
            label: "1:1",
            data: oneToOneX.map((x, i) => ({ x, y: oneToOneY[i] })),
            showLine: true,
            borderColor: "#8c8c8c",
            borderWidth: 1.5,
            borderDash: [9, 6],
            pointRadius: 0,
            order: 2,
          },
        ],
      },
      options: {
        responsive: false,
        animation: false,
        events: [],
        layout: { padding: { top: 9, right: 8, left: 0, bottom: 0 } },
        plugins: { legend: { display: false }, tooltip: { enabled: false } },
        scales: {
          x: {
            type: "linear",
            min: 0.5,
            max: 2.2,
            afterBuildTicks: (s: any) => {
              s.ticks = lidarTicks.map((v) => ({ value: v }));
            },
            afterFit: (s: any) => {
              s.height = 72;
              noPad(s);
            },
            ticks: {
              font: { family: SANS, size: 19 },
              color: "#000",
              padding: 3,
              maxRotation: 0,
              callback: (v: any) => lidarTickLabels[lidarTicks.indexOf(Number(v))] ?? String(v),
            },
            grid: gridCommon,
            border: borderCommon,
            title: { display: true, text: "CBH Lidar [km]", color: "#000", font: { family: SANS, size: 23 }, padding: { top: 0, bottom: 16 } },
          },
          y: {
            type: "linear",
            min: 0.5,
            max: 2.2,
            afterBuildTicks: (s: any) => {
              s.ticks = ceilTicks.map((v) => ({ value: v }));
            },
            afterFit: (s: any) => {
              s.width = 76;
              noPad(s);
            },
            ticks: {
              font: { family: SANS, size: 19 },
              color: "#000",
              padding: 8,
              callback: (v: any) => ceilTickLabels[ceilTicks.indexOf(Number(v))] ?? String(v),
            },
            grid: gridCommon,
            border: borderCommon,
            title: { display: true, text: "CBH Ceilometer [km]", color: "#000", font: { family: SANS, size: 23 }, padding: { top: 3, bottom: 0 } },
          },
        },
      },
      plugins: [rightDecor],
    } as any);

    return () => {
      left.destroy();
      right.destroy();
    };
  }, []);

  return (
    <div style={{ position: "fixed", left: 0, top: 0, width: 1320, height: 448, overflow: "hidden", background: "#fff" }}>
      <canvas ref={leftRef} width={885} height={448} style={{ position: "absolute", left: 0, top: 0 }} />
      <canvas ref={rightRef} width={450} height={448} style={{ position: "absolute", left: 880, top: 0 }} />
    </div>
  );
}
